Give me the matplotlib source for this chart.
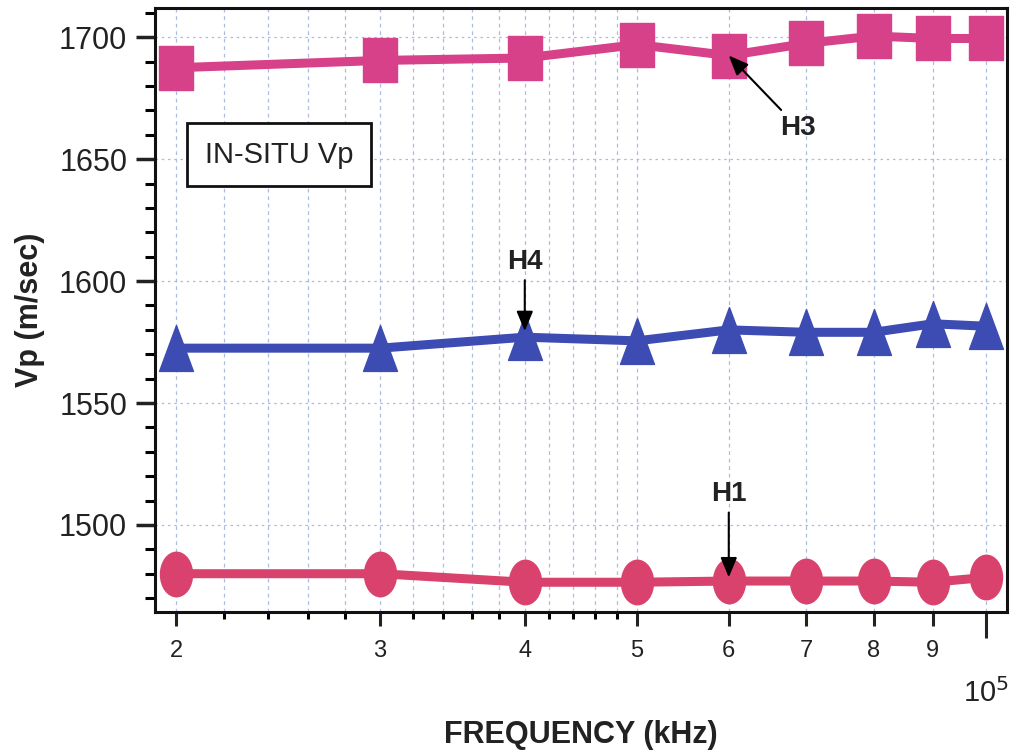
import numpy as np
import matplotlib.pyplot as plt
from matplotlib.path import Path
from matplotlib.transforms import blended_transform_factory
from matplotlib.ticker import FixedLocator, NullFormatter, FixedFormatter

plt.rcParams['font.family'] = ['Liberation Sans', 'DejaVu Sans']

# frequency (Hz) and in-situ Vp (m/sec) for the three horizons
freq = [2e4, 3e4, 4e4, 5e4, 6e4, 7e4, 8e4, 9e4, 1e5]
vp_h3 = [1687.5, 1690.5, 1691.5, 1697, 1692.5, 1697.5, 1700.5, 1699.5, 1699.5]
vp_h4 = [1572.5, 1572.5, 1577, 1575.5, 1580, 1579, 1579, 1582.5, 1581.5]
vp_h1 = [1480, 1480, 1476.5, 1476.5, 1477, 1477, 1477, 1476.5, 1478.5]

major_x = [2e4, 3e4, 4e4, 5e4, 6e4, 7e4, 8e4, 9e4, 1e5]
major_x_labels = ['2', '3', '4', '5', '6', '7', '8', '9', '']
minor_x = [2.2e4, 2.4e4, 2.6e4, 2.8e4, 3.2e4, 3.4e4, 3.6e4, 3.8e4,
           4.2e4, 4.4e4, 4.6e4, 4.8e4]

pink_sq = '#d6418a'
pink_ci = '#d8426c'
blue = '#3c4cb2'
grid_c = '#a9bde0'
ink = '#222222'


def stretched(path, sx, sy):
    v = path.vertices * np.array([sx, sy])
    return Path(v, path.codes)


sq = Path.unit_rectangle()
sq = Path(sq.vertices - 0.5, sq.codes)
sq = stretched(sq, 0.78, 1.0)
ellipse = stretched(Path.unit_circle(), 0.72, 1.0)
tri = Path([(-0.37, -0.5), (0.37, -0.5), (0, 0.5), (-0.37, -0.5)],
           [Path.MOVETO, Path.LINETO, Path.LINETO, Path.CLOSEPOLY])

fig = plt.figure(figsize=(10.11, 7.5), dpi=100)
ax = fig.add_axes([0.1533, 0.184, 0.8427, 0.805])
ax.set_xscale('log')
ax.set_xlim(1.918e4, 1.043e5)
ax.set_ylim(1464.3, 1711.9)

ax.plot(freq, vp_h3, color=pink_sq, lw=6.5, marker=sq, ms=32, zorder=3)
ax.plot(freq, vp_h4, color=blue, lw=6.5, marker=tri, ms=33, zorder=3)
ax.plot(freq, vp_h1, color=pink_ci, lw=6.5, marker=ellipse, ms=32, zorder=3)

# axes ticks
ax.xaxis.set_major_locator(FixedLocator(major_x))
ax.xaxis.set_major_formatter(FixedFormatter(major_x_labels))
ax.xaxis.set_minor_locator(FixedLocator(minor_x))
ax.xaxis.set_minor_formatter(NullFormatter())
ax.set_yticks([1500, 1550, 1600, 1650, 1700])
ax.set_yticks(np.arange(1470, 1711, 10), minor=True)

ax.tick_params(axis='x', which='major', direction='out', length=10, width=2.2,
               labelsize=17, pad=10, colors=ink, top=False)
ax.tick_params(axis='x', which='minor', direction='out', length=5, width=2.2,
               top=False)
ax.tick_params(axis='y', which='major', direction='out', length=14, width=2.5,
               labelsize=22, pad=6, colors=ink, right=False)
ax.tick_params(axis='y', which='minor', direction='out', length=7, width=2.2,
               right=False)
ax.xaxis.get_major_ticks()[-1].tick1line.set_markersize(19)

for s in ax.spines.values():
    s.set_linewidth(2.2)
    s.set_color('#111111')

ax.grid(True, which='both', axis='x', color=grid_c, ls=(0, (3, 3)), lw=0.9)
ax.grid(True, which='major', axis='y', color=grid_c, ls=(0, (2, 3)), lw=0.9)
ax.set_axisbelow(True)

trans = blended_transform_factory(ax.transData, ax.transAxes)
ax.text(1e5, -0.135, r'10$^{5}$', transform=trans, ha='center',
        va='center', fontsize=21, color=ink)

ax.set_xlabel('FREQUENCY (kHz)', fontsize=22, fontweight='bold', labelpad=42,
              color=ink)
ax.set_ylabel('Vp (m/sec)', fontsize=22, fontweight='bold', labelpad=10,
              color=ink)

ax.text(0.1455, 0.757, 'IN-SITU Vp', transform=ax.transAxes, ha='center',
        va='center', fontsize=21, color=ink,
        bbox=dict(boxstyle='square,pad=0.6', fc='white', ec='#111111', lw=2))

arrow = dict(arrowstyle='-|>,head_length=0.6,head_width=0.25', color='black',
             lw=1.5, shrinkA=2, shrinkB=0)
ax.annotate('H3', xy=(freq[4], vp_h3[4]), xytext=(50, -52),
            textcoords='offset points', ha='center', va='center', fontsize=20,
            fontweight='bold', color=ink, arrowprops=arrow, zorder=5)
ax.annotate('H4', xy=(freq[2], vp_h4[2] + 2.5), xytext=(0, 50),
            textcoords='offset points', ha='center', va='center', fontsize=20,
            fontweight='bold', color=ink, arrowprops=arrow, zorder=5)
ax.annotate('H1', xy=(freq[4], vp_h1[4] + 1.5), xytext=(0, 60),
            textcoords='offset points', ha='center', va='center', fontsize=20,
            fontweight='bold', color=ink, arrowprops=arrow, zorder=5)

fig.savefig('out.png', dpi=100)
